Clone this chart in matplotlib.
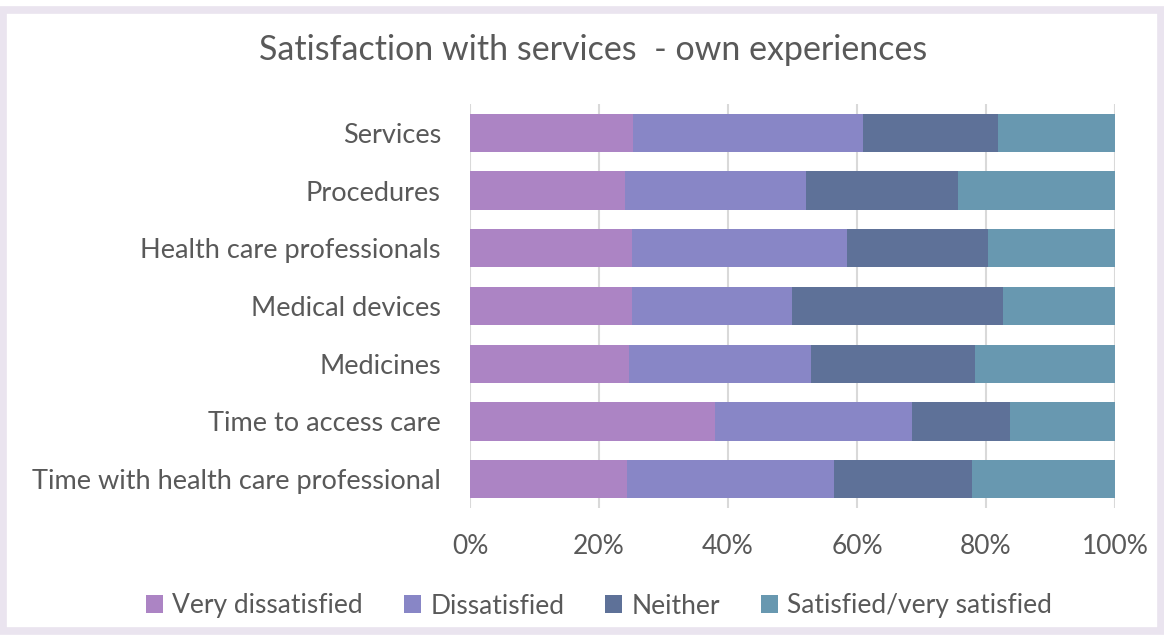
import numpy as np
import matplotlib.pyplot as plt
from matplotlib.patches import Rectangle

plt.rcParams['font.family'] = ['Lato', 'DejaVu Sans']

# categories, top to bottom
categories = ['Services', 'Procedures', 'Health care professionals', 'Medical devices',
              'Medicines', 'Time to access care', 'Time with health care professional']

# shares in percent
very_dissatisfied = np.array([25.2, 24.1, 25.1, 25.1, 24.7, 38.0, 24.3])
dissatisfied = np.array([35.8, 28.0, 33.3, 24.8, 28.2, 30.6, 32.2])
neither = np.array([20.9, 23.6, 21.9, 32.7, 25.4, 15.1, 21.4])
satisfied = np.array([18.1, 24.3, 19.7, 17.4, 21.7, 16.3, 22.1])

series = [very_dissatisfied, dissatisfied, neither, satisfied]
series_names = ['Very dissatisfied', 'Dissatisfied', 'Neither', 'Satisfied/very satisfied']
colors = ['#AC84C4', '#8886C6', '#5E7198', '#6898B0']

text_color = '#595959'

fig = plt.figure(figsize=(11.64, 6.35), dpi=100)
W, H = 1164, 635

# frame around the whole chart
fig.patches.append(Rectangle((3 / W, 4 / H), (W - 6) / W, (H - 14) / H,
                             transform=fig.transFigure, fill=False,
                             edgecolor='#EAE4EF', linewidth=5.5))

ax = fig.add_axes([470 / W, 1 - 508 / H, 645 / W, 404 / H])

y = np.arange(len(categories))
left = np.zeros(len(categories))
for vals, name, c in zip(series, series_names, colors):
    ax.barh(y, vals, left=left, height=0.665, color=c, label=name, zorder=3)
    left += vals

ax.set_xlim(0, 100)
ax.set_ylim(len(categories) - 0.5, -0.5)
ax.set_yticks(y)
ax.set_yticklabels(categories, fontsize=19.5, color=text_color)
ax.set_xticks(np.arange(0, 101, 20))
ax.set_xticklabels([f'{v}%' for v in range(0, 101, 20)], fontsize=19, color=text_color)
ax.tick_params(axis='y', length=0, pad=21)
ax.tick_params(axis='x', length=0, pad=19)
ax.grid(axis='x', color='#D9D9D9', linewidth=1.5, zorder=0)
for s in ax.spines.values():
    s.set_visible(False)

fig.text(593 / W, 1 - 50 / H, 'Satisfaction with services  - own experiences',
         ha='center', va='center', fontsize=24.5, color=text_color)

fig.legend(loc='center', bbox_to_anchor=(599 / W, 1 - 606 / H), ncol=4,
           frameon=False, fontsize=19, labelcolor=text_color,
           handlelength=0.65, handleheight=0.65, handletextpad=0.35,
           columnspacing=1.55)

fig.savefig('out.png', dpi=100, facecolor='white')
